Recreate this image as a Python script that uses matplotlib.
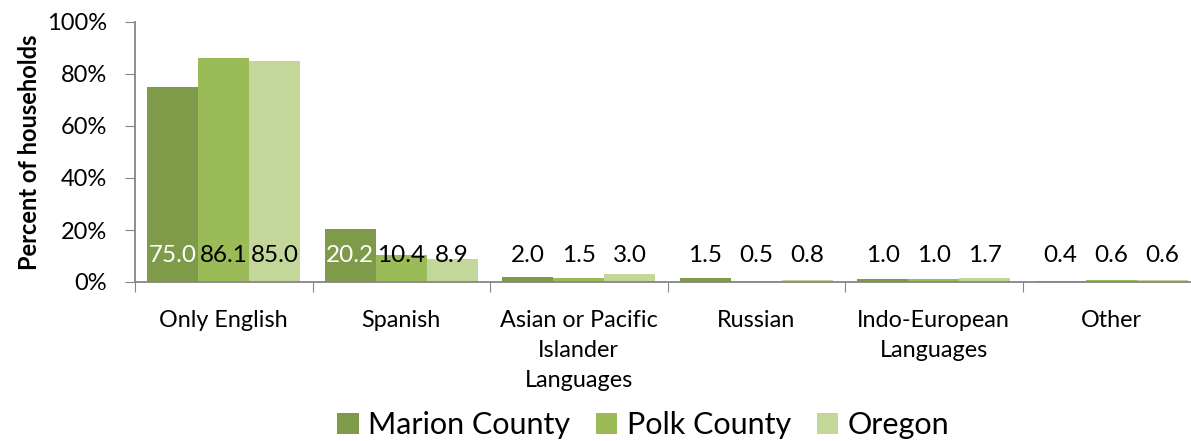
import numpy as np
import matplotlib.pyplot as plt

categories = ['Only English', 'Spanish', 'Asian or Pacific\nIslander\nLanguages',
              'Russian', 'Indo-European\nLanguages', 'Other']
marion = [75.0, 20.2, 2.0, 1.5, 1.0, 0.4]
polk = [86.1, 10.4, 1.5, 0.5, 1.0, 0.6]
oregon = [85.0, 8.9, 3.0, 0.8, 1.7, 0.6]

series = [('Marion County', marion, '#7F9A48'),
          ('Polk County', polk, '#9BBB59'),
          ('Oregon', oregon, '#C4D79B')]

plt.rcParams['font.family'] = ['Lato', 'DejaVu Sans']

fig = plt.figure(figsize=(11.91, 4.41), dpi=100)
ax = fig.add_axes([135 / 1191, 1 - 282 / 441, 1065 / 1191, 260 / 441])

x = np.arange(len(categories))
width = 0.287
for i, (name, vals, color) in enumerate(series):
    pos = x + (i - 1) * width
    ax.bar(pos, vals, width, color=color, label=name)
    for p, v in zip(pos, vals):
        # labels sit near the base; white only when inside the dark bar
        tc = 'white' if (i == 0 and v > 12) else 'black'
        ax.text(p, 10, '%.1f' % v, ha='center', va='center', fontsize=17.5, color=tc)

ax.set_xlim(-0.5, len(categories) - 0.5)
ax.set_ylim(0, 100)
ax.set_yticks(np.arange(0, 101, 20))
ax.set_yticklabels(['%d%%' % v for v in range(0, 101, 20)], fontsize=17)
ax.set_xticks(np.arange(-0.5, len(categories), 1.0))
ax.set_xticklabels([])
ax.set_xticks(x, minor=True)
ax.set_xticklabels(categories, minor=True, fontsize=16.8, linespacing=1.55, va='top')
ax.tick_params(axis='x', which='minor', length=0, pad=20)
ax.tick_params(axis='x', which='major', length=7, color='#868686', direction='out')
ax.tick_params(axis='y', length=7, color='#868686', pad=13)

for s in ['top', 'right']:
    ax.spines[s].set_visible(False)
for s in ['left', 'bottom']:
    ax.spines[s].set_color('#868686')
    ax.spines[s].set_linewidth(1.3)

fig.text(30 / 1191, 1 - 152 / 441, 'Percent of households', rotation=90,
         ha='center', va='center', fontsize=17, fontweight='bold')

fig.legend(loc='center', bbox_to_anchor=(0.540, 1 - 425 / 441), ncol=3, frameon=False,
           fontsize=22, handlelength=0.7, handleheight=0.7, handletextpad=0.3,
           columnspacing=0.85)

fig.savefig('out.png', dpi=100)
